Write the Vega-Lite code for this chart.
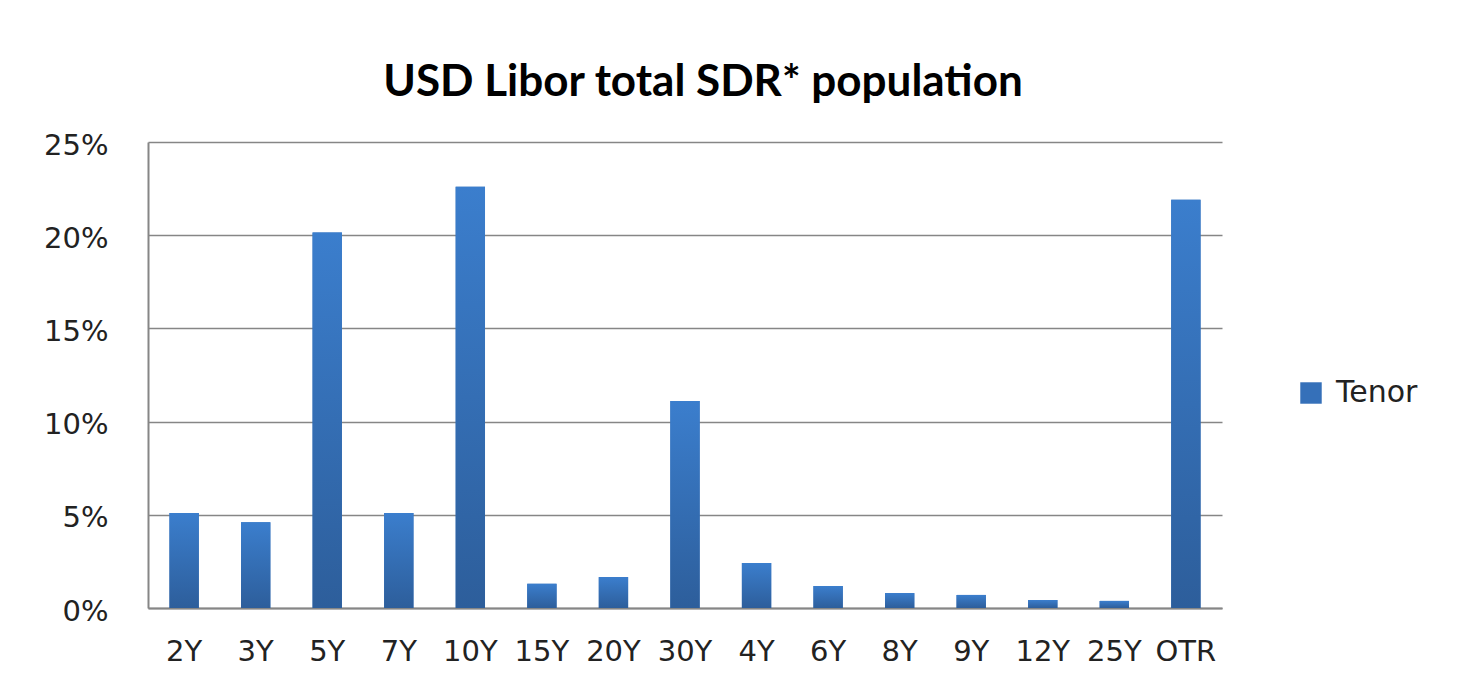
{
  "$schema": "https://vega.github.io/schema/vega-lite/v6.json",
  "width": 1074,
  "height": 466,
  "autosize": "none",
  "padding": {"left": 148, "top": 142, "right": 254, "bottom": 76},
  "background": "white",
  "title": {
    "text": "USD Libor total SDR* population",
    "font": "Lato",
    "fontWeight": "bold",
    "fontSize": 44,
    "color": "black",
    "anchor": "middle",
    "dx": 18,
    "offset": 26
  },
  "data": {
    "values": [
      {"tenor": "2Y", "share": 0.051, "series": "Tenor"},
      {"tenor": "3Y", "share": 0.046, "series": "Tenor"},
      {"tenor": "5Y", "share": 0.2015, "series": "Tenor"},
      {"tenor": "7Y", "share": 0.051, "series": "Tenor"},
      {"tenor": "10Y", "share": 0.226, "series": "Tenor"},
      {"tenor": "15Y", "share": 0.013, "series": "Tenor"},
      {"tenor": "20Y", "share": 0.0166, "series": "Tenor"},
      {"tenor": "30Y", "share": 0.111, "series": "Tenor"},
      {"tenor": "4Y", "share": 0.0241, "series": "Tenor"},
      {"tenor": "6Y", "share": 0.0118, "series": "Tenor"},
      {"tenor": "8Y", "share": 0.008, "series": "Tenor"},
      {"tenor": "9Y", "share": 0.007, "series": "Tenor"},
      {"tenor": "12Y", "share": 0.0043, "series": "Tenor"},
      {"tenor": "25Y", "share": 0.0038, "series": "Tenor"},
      {"tenor": "OTR", "share": 0.219, "series": "Tenor"}
    ]
  },
  "encoding": {
    "x": {
      "field": "tenor",
      "type": "nominal",
      "sort": null,
      "scale": {"paddingInner": 0.59, "paddingOuter": 0.3},
      "axis": {
        "title": null,
        "labelAngle": 0,
        "labelFont": "DejaVu Sans",
        "labelFontSize": 29,
        "labelColor": "#222222",
        "labelPadding": 29,
        "ticks": false,
        "domainColor": "#868686",
        "domainWidth": 2,
        "grid": false
      }
    },
    "y": {
      "field": "share",
      "type": "quantitative",
      "scale": {"domain": [0, 0.25], "nice": false},
      "axis": {
        "title": null,
        "values": [0, 0.05, 0.1, 0.15, 0.2, 0.25],
        "format": ".0%",
        "labelFont": "DejaVu Sans",
        "labelFontSize": 29,
        "labelColor": "#222222",
        "labelPadding": 40,
        "labelBaseline": "middle",
        "labelOffset": 3,
        "ticks": false,
        "domainColor": "#868686",
        "domainWidth": 2,
        "grid": true,
        "gridColor": "#868686",
        "gridWidth": 1.5
      }
    }
  },
  "layer": [
    {
      "mark": {"type": "bar"},
      "encoding": {
        "color": {
          "field": "series",
          "type": "nominal",
          "scale": {"range": ["#3570b9"]},
          "legend": {
            "title": null,
            "orient": "none",
            "legendX": 1148,
            "legendY": 236,
            "symbolType": "square",
            "symbolSize": 460,
            "symbolStrokeWidth": 0,
            "labelFont": "DejaVu Sans",
            "labelFontSize": 30,
            "labelColor": "#222222",
            "labelOffset": 10
          }
        }
      }
    },
    {
      "mark": {
        "type": "bar",
        "color": {
          "gradient": "linear",
          "x1": 0, "y1": 0, "x2": 0, "y2": 1,
          "stops": [
            {"offset": 0, "color": "#3b7ecd"},
            {"offset": 1, "color": "#2d5e9b"}
          ]
        }
      }
    }
  ],
  "config": {
    "view": {"stroke": null}
  }
}
